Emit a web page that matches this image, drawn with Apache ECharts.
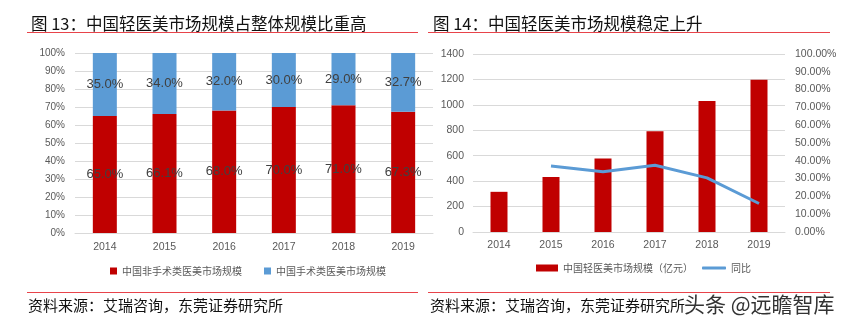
<!DOCTYPE html>
<html><head><meta charset="utf-8">
<script src="https://cdn.jsdelivr.net/npm/echarts@6/dist/echarts.min.js"></script>
<style>html,body{margin:0;padding:0;background:#fff}#c{width:849px;height:328px}</style>
</head><body><div id="c"></div>
<script>
const years = ['2014','2015','2016','2017','2018','2019'];
const nonSurgical = [65.0, 66.1, 68.0, 70.0, 71.0, 67.3];
const surgical = [35.0, 34.0, 32.0, 30.0, 29.0, 32.7];
const marketSize = [316, 432, 578, 793, 1030, 1198];
const growth = [null, 37.1, 33.8, 37.5, 30.4, 16.0];
const leftTitle = '图 13：中国轻医美市场规模占整体规模比重高';
const rightTitle = '图 14：中国轻医美市场规模稳定上升';
const source = '资料来源：艾瑞咨询，东莞证券研究所';
const watermark = '头条 @远瞻智库';

const FONT = '"Noto Sans CJK SC", "Liberation Sans", sans-serif';
const NUM = '"Liberation Sans", sans-serif';
const grey = '#595959';
const gridLine = '#d9d9d9';
const red = '#C00000';
const blue = '#5B9BD5';

const chart = echarts.init(document.getElementById('c'), null, {renderer: 'canvas'});
chart.setOption({
  animation: false,
  textStyle: {fontFamily: FONT},
  title: [
    {text: leftTitle, left: 26, top: 10, textStyle: {fontSize: 16.5, fontWeight: 'normal', color: '#111', fontFamily: FONT}},
    {text: rightTitle, left: 428, top: 10, textStyle: {fontSize: 16.5, fontWeight: 'normal', color: '#111', fontFamily: FONT}}
  ],
  graphic: [
    {type: 'line', shape: {x1: 27, y1: 32.5, x2: 418, y2: 32.5}, style: {stroke: '#e8434a', lineWidth: 1}},
    {type: 'line', shape: {x1: 428, y1: 32.5, x2: 830, y2: 32.5}, style: {stroke: '#e8434a', lineWidth: 1}},
    {type: 'line', shape: {x1: 27, y1: 292.5, x2: 418, y2: 292.5}, style: {stroke: '#e8434a', lineWidth: 1}},
    {type: 'line', shape: {x1: 428, y1: 292.5, x2: 830, y2: 292.5}, style: {stroke: '#e8434a', lineWidth: 1}},
    {type: 'text', left: 28, top: 298, style: {text: source, fill: '#111', font: '15px ' + FONT}},
    {type: 'text', left: 430, top: 298, style: {text: source, fill: '#111', font: '15px ' + FONT}},
    {type: 'text', left: 684, top: 294, style: {text: watermark, font: '21px ' + FONT, fill: '#333'}}
  ],
  legend: [
    {
      left: 105, top: 261, itemWidth: 7, itemHeight: 7, itemGap: 22, icon: 'rect',
      data: ['中国非手术类医美市场规模', '中国手术类医美市场规模'],
      textStyle: {color: grey, fontSize: 10, fontFamily: FONT}
    },
    {
      left: 531, top: 258, itemWidth: 22, itemHeight: 7, icon: 'rect',
      data: ['中国轻医美市场规模（亿元）'],
      textStyle: {color: grey, fontSize: 10, fontFamily: FONT}
    },
    {
      left: 697, top: 258, itemWidth: 24, itemHeight: 3, icon: 'roundRect',
      data: ['同比'],
      textStyle: {color: grey, fontSize: 10, fontFamily: FONT}
    }
  ],
  grid: [
    {left: 75, top: 53, width: 358, height: 180},
    {left: 473, top: 54, width: 312, height: 178}
  ],
  xAxis: [
    {type: 'category', gridIndex: 0, data: years,
      axisLine: {lineStyle: {color: gridLine}}, axisTick: {show: false},
      axisLabel: {color: grey, fontSize: 10.5, margin: 9, fontFamily: NUM}},
    {type: 'category', gridIndex: 1, data: years,
      axisLine: {lineStyle: {color: gridLine}}, axisTick: {show: false},
      axisLabel: {color: grey, fontSize: 10.5, margin: 8, fontFamily: NUM}}
  ],
  yAxis: [
    {type: 'value', gridIndex: 0, min: 0, max: 100, interval: 10,
      axisLine: {show: false}, axisTick: {show: false},
      splitLine: {lineStyle: {color: gridLine}},
      axisLabel: {color: grey, fontSize: 10, margin: 10, formatter: v => v + '%', fontFamily: NUM}},
    {type: 'value', gridIndex: 1, min: 0, max: 1400, interval: 200,
      axisLine: {show: false}, axisTick: {show: false},
      splitLine: {lineStyle: {color: gridLine}},
      axisLabel: {color: grey, fontSize: 10.5, margin: 9, formatter: v => String(v), fontFamily: NUM}},
    {type: 'value', gridIndex: 1, position: 'right', min: 0, max: 100, interval: 10,
      axisLine: {show: false}, axisTick: {show: false}, splitLine: {show: false},
      axisLabel: {color: grey, fontSize: 10.5, margin: 10, formatter: v => v.toFixed(2) + '%', fontFamily: NUM}}
  ],
  series: [
    {name: '中国非手术类医美市场规模', type: 'bar', stack: 's', xAxisIndex: 0, yAxisIndex: 0,
      data: nonSurgical, barWidth: 24, itemStyle: {color: red},
      label: {show: true, position: 'inside', color: '#404040', fontSize: 13, formatter: p => p.value.toFixed(1) + '%', fontFamily: NUM}},
    {name: '中国手术类医美市场规模', type: 'bar', stack: 's', xAxisIndex: 0, yAxisIndex: 0,
      data: surgical, barWidth: 24, itemStyle: {color: blue},
      label: {show: true, position: 'inside', color: '#404040', fontSize: 13, formatter: p => p.value.toFixed(1) + '%', fontFamily: NUM}},
    {name: '中国轻医美市场规模（亿元）', type: 'bar', xAxisIndex: 1, yAxisIndex: 1,
      data: marketSize, barWidth: 17, itemStyle: {color: red}},
    {name: '同比', type: 'line', xAxisIndex: 1, yAxisIndex: 2,
      data: growth, symbol: 'none', showSymbol: false,
      lineStyle: {color: blue, width: 3}, itemStyle: {color: blue}}
  ]
});
</script>
</body></html>
